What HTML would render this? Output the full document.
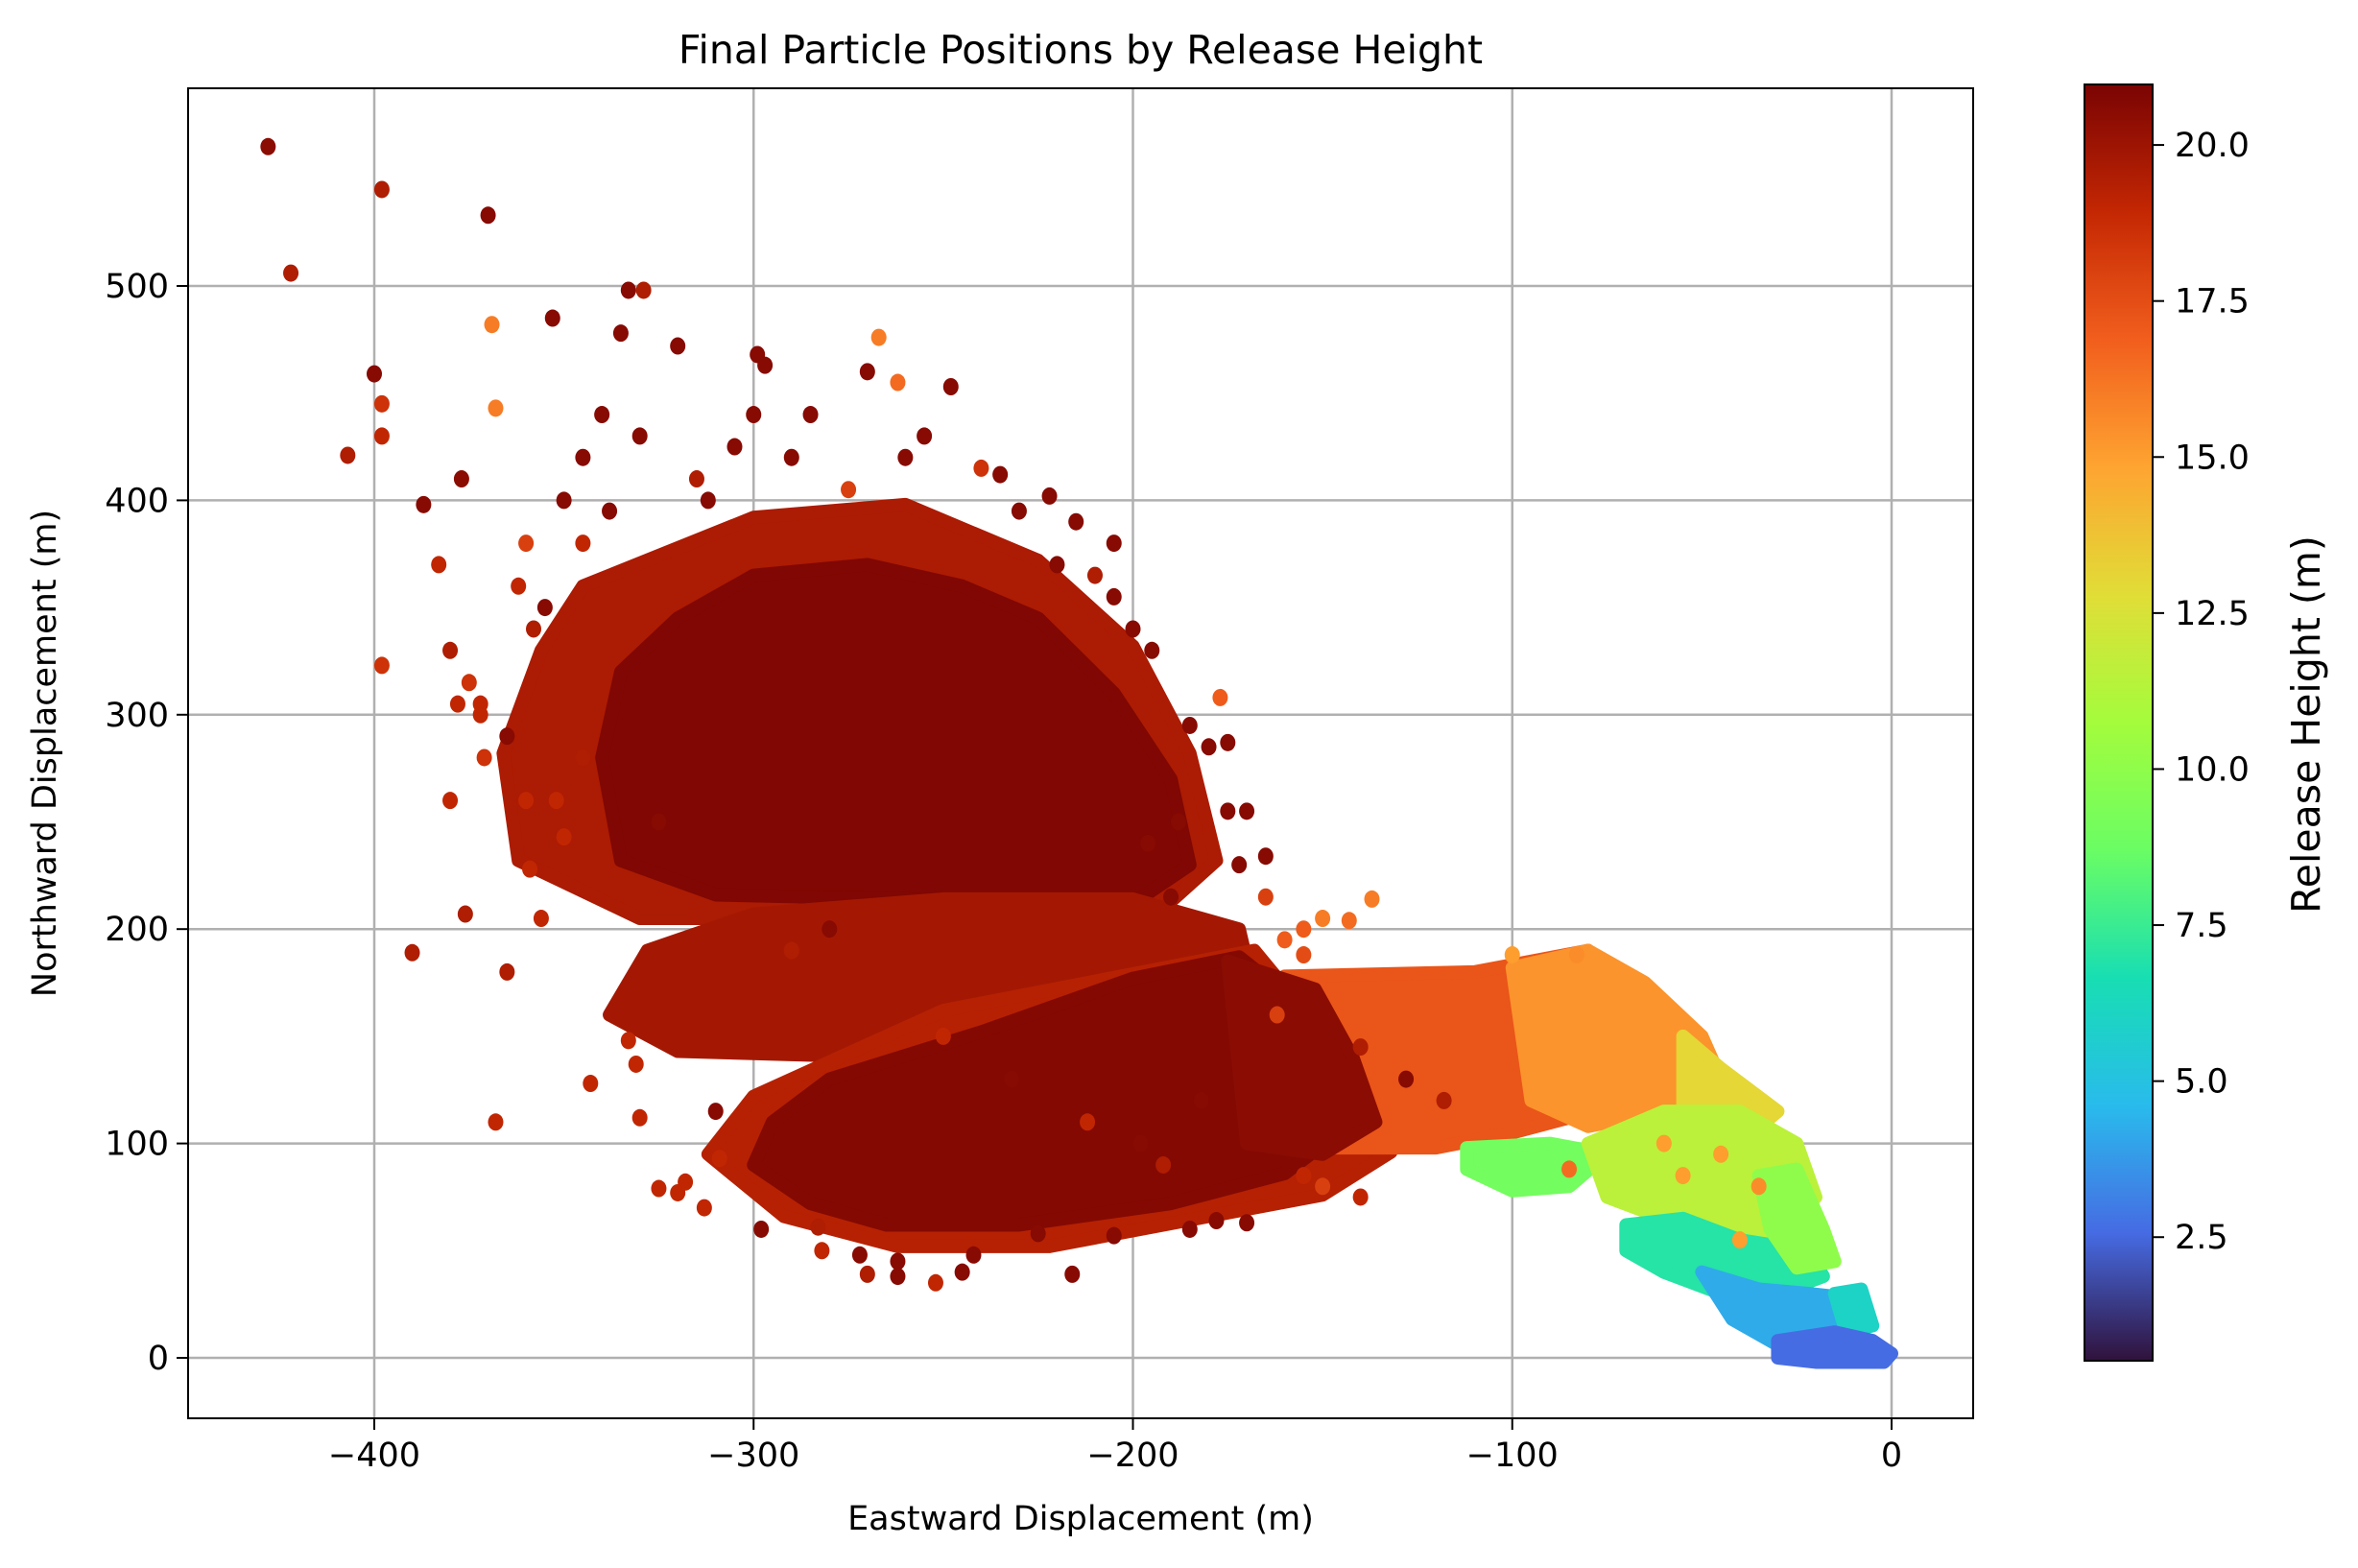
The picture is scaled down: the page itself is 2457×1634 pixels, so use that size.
<!DOCTYPE html>
<html><head><meta charset="utf-8">
<style>
html,body{margin:0;padding:0;background:#fff;}
svg{display:block;font-family:"DejaVu Sans","Liberation Sans",sans-serif;}
</style></head>
<body>
<svg id="chart" width="2457" height="1634" viewBox="0 0 2457 1634" xmlns="http://www.w3.org/2000/svg">
<rect width="2457" height="1634" fill="#fff"/>
<defs><linearGradient id="cbgrad" x1="0" y1="1" x2="0" y2="0"></linearGradient>
<clipPath id="plotclip"><rect x="196" y="92" width="1860" height="1386"/></clipPath></defs>
<g id="grid"></g>
<g id="regions" clip-path="url(#plotclip)"></g>
<g id="points" clip-path="url(#plotclip)"></g>
<rect x="196" y="92" width="1860" height="1386" fill="none" stroke="#000" stroke-width="2"/>
<g id="xticks"></g>
<g id="yticks"></g>
<text x="1126" y="66" font-size="41" text-anchor="middle">Final Particle Positions by Release Height</text>
<text x="1126" y="1594" font-size="35" text-anchor="middle">Eastward Displacement (m)</text>
<text transform="translate(58,785) rotate(-90)" font-size="35" text-anchor="middle">Northward Displacement (m)</text>
<g id="colorbar"></g>
<text transform="translate(2417,755) rotate(-90)" font-size="41" text-anchor="middle">Release Height (m)</text>
</svg>
<script>
const xTicks=[-400,-300,-200,-100,0];
const yTicks=[0,100,200,300,400,500];
const cbTicks=[2.5,5.0,7.5,10.0,12.5,15.0,17.5,20.0];
const hMin=0.52, hMax=20.97;
// dense cluster outlines (data coords) and their release heights
const regionHeights=[19.6,20.8,19.8,19.3,20.7,17.2,15.3,13.0,9.0,11.5,7.0,10.0,4.2,6.0,2.6,20.5];
const regionShapes=[
 [[-345,360],[-300,392],[-260,398],[-225,372],[-200,332],[-185,282],[-178,232],[-195,205],[-330,205],[-362,232],[-366,282],[-356,330]],
 [[-320,345],[-300,365],[-270,370],[-245,360],[-225,345],[-205,310],[-190,270],[-185,230],[-200,212],[-260,214],[-310,216],[-335,232],[-340,280],[-335,320]],
 [[-328,190],[-300,207],[-250,214],[-200,214],[-172,200],[-168,170],[-200,150],[-260,140],[-320,143],[-338,160]],
 [[-312,95],[-292,66],[-262,52],[-222,52],[-186,64],[-150,76],[-132,96],[-140,130],[-168,190],[-250,162],[-300,122]],
 [[-295,110],[-280,130],[-240,152],[-200,177],[-172,187],[-160,170],[-150,140],[-142,110],[-160,86],[-190,72],[-230,62],[-265,62],[-285,72],[-300,90]],
 [[-160,178],[-110,180],[-95,185],[-80,190],[-68,170],[-60,150],[-70,125],[-85,112],[-100,105],[-120,98],[-150,98]],
 [[-100,182],[-80,190],[-65,175],[-50,150],[-45,130],[-60,115],[-80,108],[-95,120]],
 [[-55,150],[-45,135],[-30,115],[-40,100],[-55,105]],
 [[-112,98],[-90,100],[-75,95],[-85,80],[-100,78],[-112,88]],
 [[-80,100],[-60,115],[-40,115],[-25,100],[-20,75],[-30,55],[-45,60],[-60,65],[-75,75]],
 [[-70,62],[-55,65],[-40,55],[-22,50],[-18,38],[-30,30],[-45,30],[-60,40],[-70,50]],
 [[-35,85],[-25,88],[-18,60],[-15,45],[-25,42],[-32,60]],
 [[-50,40],[-35,32],[-22,30],[-12,28],[-8,15],[-18,6],[-30,6],[-42,18]],
 [[-15,30],[-8,32],[-5,15],[-12,12]],
 [[-30,8],[-15,12],[-5,8],[0,2],[-2,-2],[-20,-2],[-30,0]],
 [[-175,185],[-152,172],[-142,140],[-136,110],[-150,95],[-170,100]]
];
// individual scattered points
const ptX=[-428,-422,-398,-370,-400,-407,-398,-398,-398,-390,-368,-365,-369,-368,-383,-387,-377,-353,-333,-329,-335,-320,-267,-248,-262,-222,-299,-297,-270,-330,-331,-343,-333,-310,-325,-320,-309,-262,-270,-252,-245,-216,-272,-283,-350,-352,-359,-356,-376,-380,-375,-378,-380,-365,-360,-345,-371,-372,-355,-360,-350,-345,-340,-330,-312,-300,-290,-260,-240,-230,-200,-195,-175,-177,-185,-180,-170,-165,-150,-143,-137,-155,-190,-220,-210,-205,-175,-165,-160,-155,-100,-83,-178,-185,-205,-225,-170,-155,-150,-140,-315,-305,-285,-275,-255,-235,-215,-345,-338,-362,-358,-372,-325,-290,-280,-250,-232,-212,-196,-188,-182,-172,-162,-140,-128,-118,-313,-318,-298,-282,-262,-242,-198,-192,-205,-60,-45,-35,-55,-85,-40];
const ptY=[565,506,545,533,459,421,445,430,323,189,110,180,482,443,370,398,410,485,498,498,478,472,476,453,455,402,468,463,460,112,137,128,148,115,79,77,93,38,39,35,40,39,48,61,243,260,228,205,207,260,315,305,330,290,260,280,280,305,350,380,400,420,440,430,400,440,420,420,415,395,340,330,287,308,295,285,255,234,205,204,214,200,215,370,365,355,255,215,195,188,188,188,64,60,57,58,63,85,80,75,410,425,440,405,430,412,390,380,395,360,340,300,250,190,200,150,130,110,240,250,120,230,160,145,130,120,70,82,60,50,45,48,100,90,380,100,95,80,85,88,55];
const ptH=[20.5,19.5,19.5,20.6,20.6,19.5,18.5,19,18.5,19.5,19,19.5,16,16,19,20.6,20.5,20.6,20.6,19.5,20.6,20.6,16,20.6,16.5,20.6,20.6,20.6,20.6,19,19,19,19,20.6,19,19,19,20.6,19.5,19,20.6,20.6,20.6,19.5,19,19,19,19,19.5,19,18.5,19,19.5,20.6,19,19.5,18.5,19,20.6,18,20.6,20.6,20.6,20.6,20.6,20.6,20.6,20.6,18.5,20.6,20.6,20.6,20.6,17,20.6,20.6,20.6,20.6,16,16.5,16,17,20.6,20.6,19.5,20.6,20.6,18,17,17.5,15,15.5,20.6,20.6,20.6,20.6,20.6,19,18,19,19.5,20.6,20.6,18,20.6,20.6,20.6,19,20.6,19,19.5,19,20.6,19.5,20.6,19,20.6,19,20.6,20.6,20.6,20.6,18,19.5,20.6,19.5,19,19,20.6,19,20.6,20.6,20.6,19.5,20.6,15,15,15.5,15,16.5,15];

const X0=196,X1=2056,Y0=92,Y1=1478;
const xs=v=>390+(v+400)*3.9525;
const ys=v=>1415-v*2.234;
const cbY=v=>88+(hMax-v)/(hMax-hMin)*1330;
const turboStops=[[48,18,59],[70,107,227],[41,187,236],[24,222,179],[106,253,100],[164,252,60],[225,221,55],[254,164,49],[241,94,29],[196,39,3],[122,4,3]];
function turbo(h){
 let t=Math.max(0,Math.min(1,(h-hMin)/(hMax-hMin)))*10;
 let i=Math.min(9,Math.floor(t)),f=t-i;
 const a=turboStops[i],b=turboStops[i+1];
 const c=k=>Math.round(a[k]+(b[k]-a[k])*f);
 return `rgb(${c(0)},${c(1)},${c(2)})`;
}
const NS="http://www.w3.org/2000/svg";
function mk(tag,attrs,parent){const e=document.createElementNS(NS,tag);for(const k in attrs)e.setAttribute(k,attrs[k]);parent.appendChild(e);return e;}
const grid=document.getElementById('grid'),xt=document.getElementById('xticks'),yt=document.getElementById('yticks');
xTicks.forEach(v=>{
 const l=mk('line',{x1:xs(v),x2:xs(v),y1:Y0,y2:Y1,stroke:'#b0b0b0','stroke-width':2.5},grid);
 
 
 mk('line',{x1:xs(v),x2:xs(v),y1:Y1,y2:Y1+12,stroke:'#000','stroke-width':2},xt);
 const t=mk('text',{x:xs(v),y:Y1+50,'font-size':35,'text-anchor':'middle'},xt);
 t.textContent=v<0?'\u2212'+Math.abs(v):String(v);
 
 
});
yTicks.forEach(v=>{
 const l=mk('line',{x1:X0,x2:X1,y1:ys(v),y2:ys(v),stroke:'#b0b0b0','stroke-width':2.5},grid);
 
 
 mk('line',{x1:X0-12,x2:X0,y1:ys(v),y2:ys(v),stroke:'#000','stroke-width':2},yt);
 const t=mk('text',{x:X0-20,y:ys(v)+12,'font-size':35,'text-anchor':'end'},yt);
 t.textContent=String(v);
 
 
});
const rg=document.getElementById('regions');
regionShapes.forEach((pts,i)=>{
 const col=turbo(regionHeights[i]);
 const p=mk('polygon',{points:pts.map(q=>xs(q[0])+','+ys(q[1])).join(' '),fill:col,stroke:col,'stroke-width':14,'stroke-linejoin':'round'},rg);
 
 
});
const pg=document.getElementById('points');
ptX.forEach((x,i)=>{
 const c=mk('ellipse',{cx:xs(x),cy:ys(ptY[i]),rx:8,ry:9,fill:turbo(ptH[i])},pg);
 
 
});
// colorbar
const grad=document.getElementById('cbgrad');
for(let i=0;i<=20;i++){const h=hMin+(hMax-hMin)*i/20;mk('stop',{offset:(i*5)+'%','stop-color':turbo(h)},grad);}
const cb=document.getElementById('colorbar');
const r=mk('rect',{x:2172,y:88,width:71,height:1330,fill:'url(#cbgrad)',stroke:'#000','stroke-width':2},cb);


cbTicks.forEach(v=>{
 mk('line',{x1:2243,x2:2255,y1:cbY(v),y2:cbY(v),stroke:'#000','stroke-width':2},cb);
 const t=mk('text',{x:2266,y:cbY(v)+12,'font-size':35},cb);
 t.textContent=v.toFixed(1);
 
 
});
</script>
</body></html>
